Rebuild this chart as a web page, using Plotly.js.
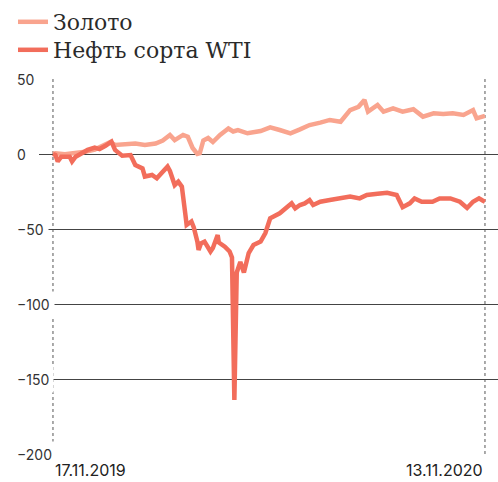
<!DOCTYPE html>
<html>
<head>
<meta charset="utf-8">
<script src="https://cdn.plot.ly/plotly-3.0.1.min.js"></script>
<style>
  html, body { margin: 0; padding: 0; background: #fff; }
  #chart { width: 498px; height: 482px; }
</style>
</head>
<body>
<div id="chart"></div>
<script>
// Gold (Золото), % change since 17.11.2019
const goldDates = ["2019-11-17","2019-11-19","2019-11-27","2019-12-05","2019-12-14","2019-12-22","2019-12-31","2020-01-04","2020-01-08","2020-01-16","2020-01-25","2020-02-02","2020-02-11","2020-02-17","2020-02-23","2020-02-27","2020-03-05","2020-03-09","2020-03-13","2020-03-17","2020-03-19","2020-03-22","2020-03-26","2020-03-30","2020-04-05","2020-04-12","2020-04-16","2020-04-20","2020-04-28","2020-05-09","2020-05-17","2020-05-25","2020-06-03","2020-06-11","2020-06-19","2020-06-28","2020-07-06","2020-07-15","2020-07-23","2020-07-30","2020-08-04","2020-08-07","2020-08-15","2020-08-20","2020-08-28","2020-09-05","2020-09-14","2020-09-22","2020-10-01","2020-10-09","2020-10-17","2020-10-26","2020-11-03","2020-11-06","2020-11-13"];
const goldValues = [0,0.5,-0.2,0.5,1.5,3,6,8,6,6.5,7,6,7,9,12.7,9.3,12.7,11.5,4,0,0.5,9,10.7,8,12.7,17,15,16,13.8,15.3,17.8,16,13.8,16.4,19.3,20.9,22.7,21.5,29.3,31.5,36,28.2,32.7,28.2,30.4,28.2,29.8,24.9,27.1,26.7,27.1,26,29.3,23.8,25.4];

// WTI crude (Нефть сорта WTI), % change since 17.11.2019
const oilDates = ["2019-11-17","2019-11-19","2019-11-21","2019-11-24","2019-12-01","2019-12-03","2019-12-06","2019-12-11","2019-12-16","2019-12-22","2019-12-26","2019-12-31","2020-01-05","2020-01-08","2020-01-14","2020-01-21","2020-01-25","2020-01-31","2020-02-02","2020-02-08","2020-02-12","2020-02-17","2020-02-21","2020-02-23","2020-02-27","2020-03-01","2020-03-04","2020-03-07","2020-03-08","2020-03-12","2020-03-14","2020-03-17","2020-03-18","2020-03-20","2020-03-23","2020-03-28","2020-03-30","2020-04-03","2020-04-04","2020-04-09","2020-04-13","2020-04-15","2020-04-17","2020-04-19","2020-04-22","2020-04-25","2020-04-29","2020-05-03","2020-05-09","2020-05-13","2020-05-17","2020-05-25","2020-05-31","2020-06-04","2020-06-07","2020-06-11","2020-06-15","2020-06-19","2020-06-22","2020-06-28","2020-07-06","2020-07-15","2020-07-23","2020-07-31","2020-08-06","2020-08-15","2020-08-23","2020-08-31","2020-09-05","2020-09-11","2020-09-15","2020-09-21","2020-09-30","2020-10-06","2020-10-15","2020-10-23","2020-10-29","2020-11-03","2020-11-08","2020-11-11","2020-11-13"];
const oilValues = [0,-0.7,-5,-1.8,-1.8,-5,-1.8,0.5,2.7,4.2,3.3,5.5,8.2,2.7,-1.1,-0.7,-7.3,-9.6,-15,-14,-16.2,-11.8,-8.4,-11.3,-20.7,-18.4,-21.8,-40.7,-47.3,-45,-49,-58.4,-64,-59.6,-58.4,-65,-62.7,-54,-59,-61.8,-65,-69,-164,-79,-72,-79,-66,-60.7,-58.4,-52.7,-42.9,-39.5,-35,-32.9,-36.2,-34,-32.9,-30.7,-34,-31.8,-30.7,-29.6,-28.4,-29.6,-27.3,-26.5,-25.8,-27.3,-35.5,-32.9,-29.6,-31.8,-31.8,-29.6,-29.6,-31.8,-36,-31.8,-29.6,-31,-31.8];

const seriesNames = ["Золото", "Нефть сорта WTI"];
const yTicks = [50, 0, -50, -100, -150, -200];
const xLabelDates = ["2019-11-17", "2020-11-13"];
const xLabels = ["17.11.2019", "13.11.2020"];

const GOLD = "#f9a48e";
const OIL = "#f26d5b";

const traces = [
  { x: goldDates, y: goldValues, name: seriesNames[0], type: "scatter", mode: "lines",
    line: { color: GOLD, width: 4.5 }, hoverinfo: "skip", legend: "legend" },
  { x: oilDates, y: oilValues, name: seriesNames[1], type: "scatter", mode: "lines",
    line: { color: OIL, width: 4.5 }, hoverinfo: "skip", legend: "legend2" }
];

const fmt = v => (v < 0 ? "\u2212" + Math.abs(v) : String(v));
const annotations = yTicks.map(v => ({
  xref: "paper", yref: "y", x: -27 / 459, y: v, xanchor: "left", yanchor: "middle",
  text: fmt(v), showarrow: false, bgcolor: "#ffffff", borderpad: 4,
  font: { family: "Inter, sans-serif", size: 14, color: "#333333" }
}));
annotations.push({
  xref: "x", yref: "paper", x: xLabelDates[0], y: 0, yshift: -4, xanchor: "left", yanchor: "top",
  text: xLabels[0], showarrow: false, font: { family: "Inter, sans-serif", size: 16, color: "#222222" }
});
annotations.push({
  xref: "x", yref: "paper", x: xLabelDates[1], y: 0, yshift: -4, xanchor: "right", yanchor: "top",
  text: xLabels[1], showarrow: false, font: { family: "Inter, sans-serif", size: 16, color: "#222222" }
});

const shapes = xLabelDates.map(d => ({
  type: "line", xref: "x", yref: "paper", x0: d, x1: d, y0: 0, y1: 1,
  line: { color: "#555555", width: 1, dash: "dot" }, layer: "below"
}));

const legendBase = {
  xref: "container", yref: "container", xanchor: "left", yanchor: "middle",
  font: { family: "DejaVu Serif, serif", size: 22, color: "#2a2a2a" },
  bgcolor: "rgba(0,0,0,0)"
};

const layout = {
  width: 498, height: 482,
  margin: { l: 39, r: 0, t: 79, b: 28, autoexpand: false },
  paper_bgcolor: "#ffffff", plot_bgcolor: "#ffffff",
  showlegend: true,
  legend: Object.assign({}, legendBase, { x: 13 / 498, y: 1 - 22 / 482 }),
  legend2: Object.assign({}, legendBase, { x: 13 / 498, y: 1 - 50 / 482 }),
  xaxis: {
    type: "date", range: ["2019-11-05 07:00", "2020-11-23 22:00"],
    showgrid: false, zeroline: false, showline: false, showticklabels: false, ticks: ""
  },
  yaxis: {
    range: [-200, 50], tickvals: yTicks, showticklabels: false, ticks: "",
    showgrid: true, gridcolor: "#444444", gridwidth: 1, zeroline: false, showline: false
  },
  shapes: shapes,
  annotations: annotations
};

Plotly.newPlot("chart", traces, layout, { displayModeBar: false, staticPlot: true });
</script>
</body>
</html>
